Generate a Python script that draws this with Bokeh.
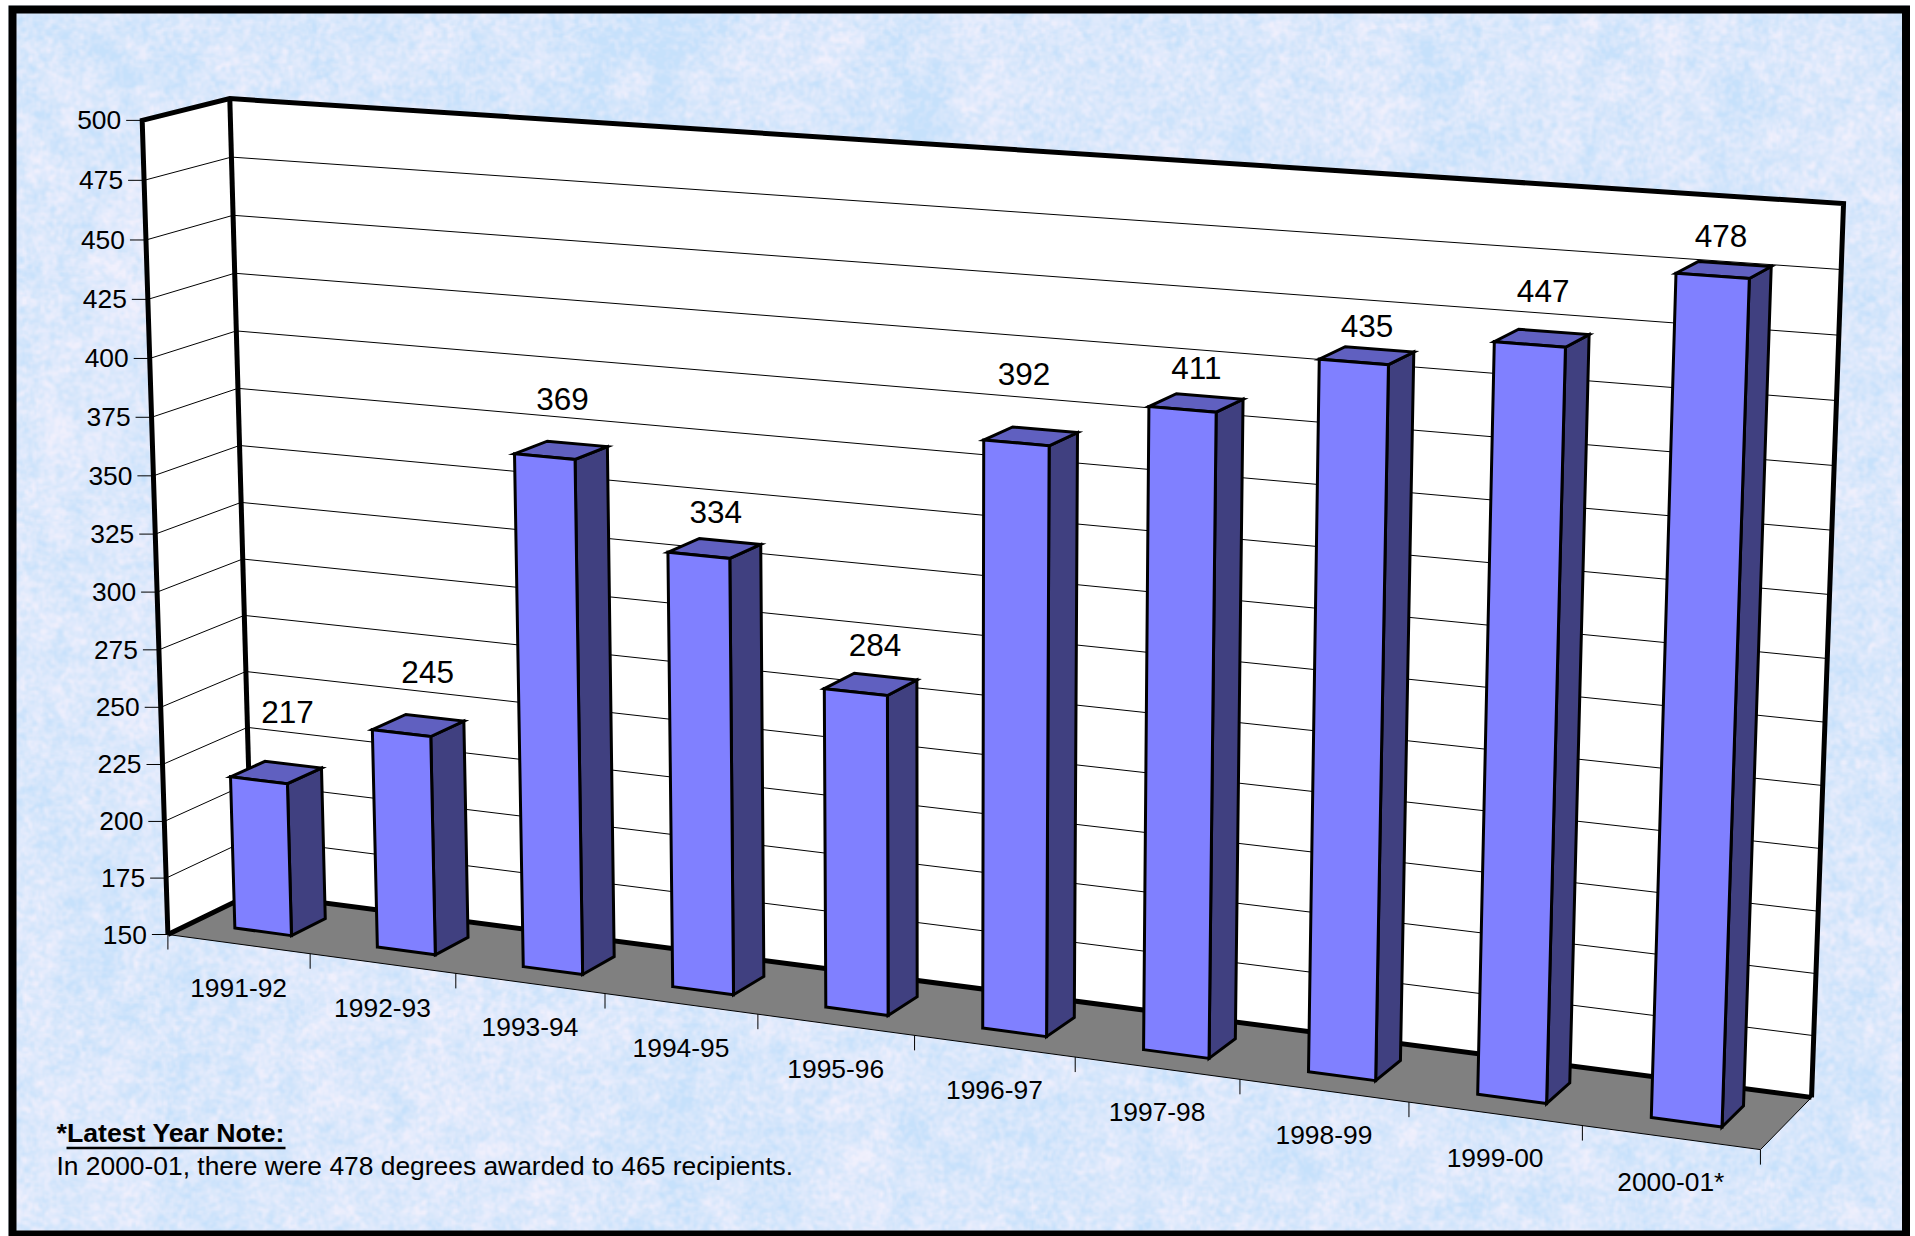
import base64
import struct
import zlib

import numpy as np
from bokeh.plotting import figure
from bokeh.models import Range1d
from bokeh.core.properties import value
from bokeh.embed import file_html
from bokeh.resources import INLINE

# ---------- chart data ----------
categories = ["1991-92", "1992-93", "1993-94", "1994-95", "1995-96",
              "1996-97", "1997-98", "1998-99", "1999-00", "2000-01*"]
degrees = [217, 245, 369, 334, 284, 392, 411, 435, 447, 478]
y_ticks = list(range(150, 501, 25))
note_title = "*Latest Year Note:"
note_body = "In 2000-01, there were 478 degrees awarded to 465 recipients."

# ---------- layout of the 3-D scene ----------
W, H = 1915, 1236
Y_MIN, Y_MAX = 150, 500
# page position of cube corners (category share, value share, depth share)
cube_anchors = [
    ((0, 0, 0), (168, 934)), ((0, 1, 0), (141, 120)),
    ((0, 0, 1), (251, 893)), ((0, 1, 1), (230, 98)),
    ((1, 0, 1), (1811, 1097)), ((1, 1, 1), (1843, 203)),
    ((1, 0, 0), (1760, 1149)),
]
BAR_LO, BAR_HI = 0.30, 0.70     # share of a category slot
DEPTH_LO, DEPTH_HI = 0.29, 0.70  # share of the floor depth
label_dy = [-60, -53, -51, -36, -39, -62, -35, -29, -47, -34]
label_dx = [11, 9, 1, 1, 4, -7, 0, 0, 1, -3]


def fit_camera(anchors):
    rows = []
    for (a, b, c), (x, y) in anchors:
        rows.append([a, b, c, 1, 0, 0, 0, 0, -x * a, -x * b, -x * c, -x])
        rows.append([0, 0, 0, 0, a, b, c, 1, -y * a, -y * b, -y * c, -y])
    return np.linalg.svd(np.array(rows, float))[2][-1].reshape(3, 4)


CAM = fit_camera(cube_anchors)


def project(cat, val, depth):
    """cat in category slots, val in chart units, depth in 0..1."""
    q = CAM @ np.array([cat / len(categories), (val - Y_MIN) / (Y_MAX - Y_MIN), depth, 1.0])
    return q[0] / q[2], q[1] / q[2]


def poly(pts):
    return [p[0] for p in pts], [p[1] for p in pts]


# ---------- paper texture (decoration only) ----------
def hash_field(h, w, seed):
    yy, xx = np.mgrid[0:h, 0:w]
    v = np.sin(xx * 12.9898 + yy * 78.233 + seed) * 43758.5453
    return v - np.floor(v)


def blurred(h, w, seed, sigma):
    f = np.fft.fft2(hash_field(h, w, seed) - 0.5)
    fy = np.fft.fftfreq(h)[:, None]
    fx = np.fft.fftfreq(w)[None, :]
    out = np.fft.ifft2(f * np.exp(-2 * (np.pi * sigma) ** 2 * (fx ** 2 + fy ** 2))).real
    return out / out.std()


def png_data_url(rgb):
    h, w, _ = rgb.shape
    raw = b"".join(b"\x00" + rgb[i].tobytes() for i in range(h))

    def chunk(tag, data):
        return struct.pack(">I", len(data)) + tag + data + struct.pack(">I", zlib.crc32(tag + data))

    blob = (b"\x89PNG\r\n\x1a\n" + chunk(b"IHDR", struct.pack(">IIBBBBB", w, h, 8, 2, 0, 0, 0))
            + chunk(b"IDAT", zlib.compress(raw, 6)) + chunk(b"IEND", b""))
    return "data:image/png;base64," + base64.b64encode(blob).decode()


th, tw = H // 2, W // 2
tone = 0.50 + 0.06 * blurred(th, tw, 1.3, 14) + 0.10 * blurred(th, tw, 2.7, 4) + 0.15 * blurred(th, tw, 4.1, 0.8)
tone = np.clip(tone, 0, 1)[..., None]
dark = np.array([198, 225, 251.0])
light = np.array([240, 240, 253.0])
texture = (dark + (light - dark) * tone).astype(np.uint8)

# ---------- figure ----------
p = figure(width=W, height=H, x_range=Range1d(0, W), y_range=Range1d(H, 0),
           output_backend="svg", toolbar_location=None, min_border=0,
           x_axis_location=None, y_axis_location=None)
p.grid.visible = False
p.outline_line_color = None
p.background_fill_color = "white"
p.border_fill_color = "white"
p.styles = {"position": "absolute", "left": "0px", "top": "0px"}

p.image_url(url=[png_data_url(texture)], x=8, y=5, w=W - 14, h=H - 5, anchor="top_left")
p.quad(left=12, right=1905.5, top=9, bottom=1234, fill_color=None,
       line_color="black", line_width=8, line_join="miter")

n = len(categories)
# walls
walls = [[project(0, Y_MIN, 1), project(n, Y_MIN, 1), project(n, Y_MAX, 1), project(0, Y_MAX, 1)],
         [project(0, Y_MIN, 0), project(0, Y_MIN, 1), project(0, Y_MAX, 1), project(0, Y_MAX, 0)]]
p.patches([poly(w)[0] for w in walls], [poly(w)[1] for w in walls],
          fill_color="white", line_color=None)

# gridlines
gx, gy = [], []
for t in y_ticks[1:-1]:
    xs, ys = poly([project(0, t, 0), project(0, t, 1), project(n, t, 1)])
    gx.append(xs)
    gy.append(ys)
p.multi_line(gx, gy, line_color="#000000", line_width=1)

# floor
floor = [project(0, Y_MIN, 0), project(n, Y_MIN, 0), project(n, Y_MIN, 1), project(0, Y_MIN, 1)]
p.patch(*poly(floor), fill_color="#808080", line_color="black", line_width=1)

# heavy wall edges
edges = [[project(0, Y_MIN, 0), project(0, Y_MAX, 0), project(0, Y_MAX, 1), project(n, Y_MAX, 1), project(n, Y_MIN, 1)],
         [project(0, Y_MIN, 0), project(0, Y_MIN, 1), project(n, Y_MIN, 1)],
         [project(0, Y_MIN, 1), project(0, Y_MAX, 1)]]
p.multi_line([poly(e)[0] for e in edges], [poly(e)[1] for e in edges],
             line_color="black", line_width=5, line_join="miter")

# axis ticks and labels
tick_x0, tick_x1, tick_y = [], [], []
for t in y_ticks:
    x, y = project(0, t, 0)
    tick_x0.append(x - 16)
    tick_x1.append(x)
    tick_y.append(y)
p.segment(tick_x0, tick_y, tick_x1, tick_y, line_color="#000000", line_width=1)
p.text([x - 5 for x in tick_x0], tick_y, text=[str(t) for t in y_ticks],
       text_font=value("Liberation Sans"), text_font_size=value("26.4px"),
       text_align="right", text_baseline="middle", text_color="black")

cx = [project(k, Y_MIN, 0) for k in range(n + 1)]
p.segment([c[0] for c in cx], [c[1] for c in cx], [c[0] for c in cx], [c[1] + 15 for c in cx],
          line_color="#000000", line_width=1)
mid = [project(k + 0.5, Y_MIN, 0) for k in range(n)]
p.text([m[0] for m in mid], [m[1] + 44 for m in mid], text=categories,
       text_font=value("Liberation Sans"), text_font_size=value("26.4px"),
       text_align="center", text_baseline="middle", text_color="black")

# bars
side, top, front = [], [], []
for k, v in enumerate(degrees):
    a, b = k + BAR_LO, k + BAR_HI
    front.append([project(a, Y_MIN, DEPTH_LO), project(b, Y_MIN, DEPTH_LO), project(b, v, DEPTH_LO), project(a, v, DEPTH_LO)])
    side.append([project(b, Y_MIN, DEPTH_LO), project(b, Y_MIN, DEPTH_HI), project(b, v, DEPTH_HI), project(b, v, DEPTH_LO)])
    top.append([project(a, v, DEPTH_LO), project(b, v, DEPTH_LO), project(b, v, DEPTH_HI), project(a, v, DEPTH_HI)])
for faces, colour in ((side, "#404080"), (top, "#6060c0"), (front, "#8080ff")):
    p.patches([poly(f)[0] for f in faces], [poly(f)[1] for f in faces],
              fill_color=colour, line_color="black", line_width=3, line_join="miter")

# data labels
anchor = [project(k + 0.5, v, 0.5) for k, v in enumerate(degrees)]
p.text([a[0] + dx for a, dx in zip(anchor, label_dx)], [a[1] + dy for a, dy in zip(anchor, label_dy)],
       text=[str(v) for v in degrees], text_font=value("Liberation Sans"),
       text_font_size=value("31.5px"), text_align="center", text_baseline="alphabetic",
       text_color="black")

# note
p.text([56], [1132], text=[note_title], text_font=value("Liberation Sans"),
       text_font_size=value("26.7px"), text_font_style="bold", text_baseline="alphabetic",
       text_color="black")
p.segment([66], [1147.5], [285], [1147.5], line_color="black", line_width=2.5)
p.text([56], [1165], text=[note_body], text_font=value("Liberation Sans"),
       text_font_size=value("26.4px"), text_baseline="alphabetic", text_color="black")

open("out.html", "w").write(file_html(p, INLINE))
